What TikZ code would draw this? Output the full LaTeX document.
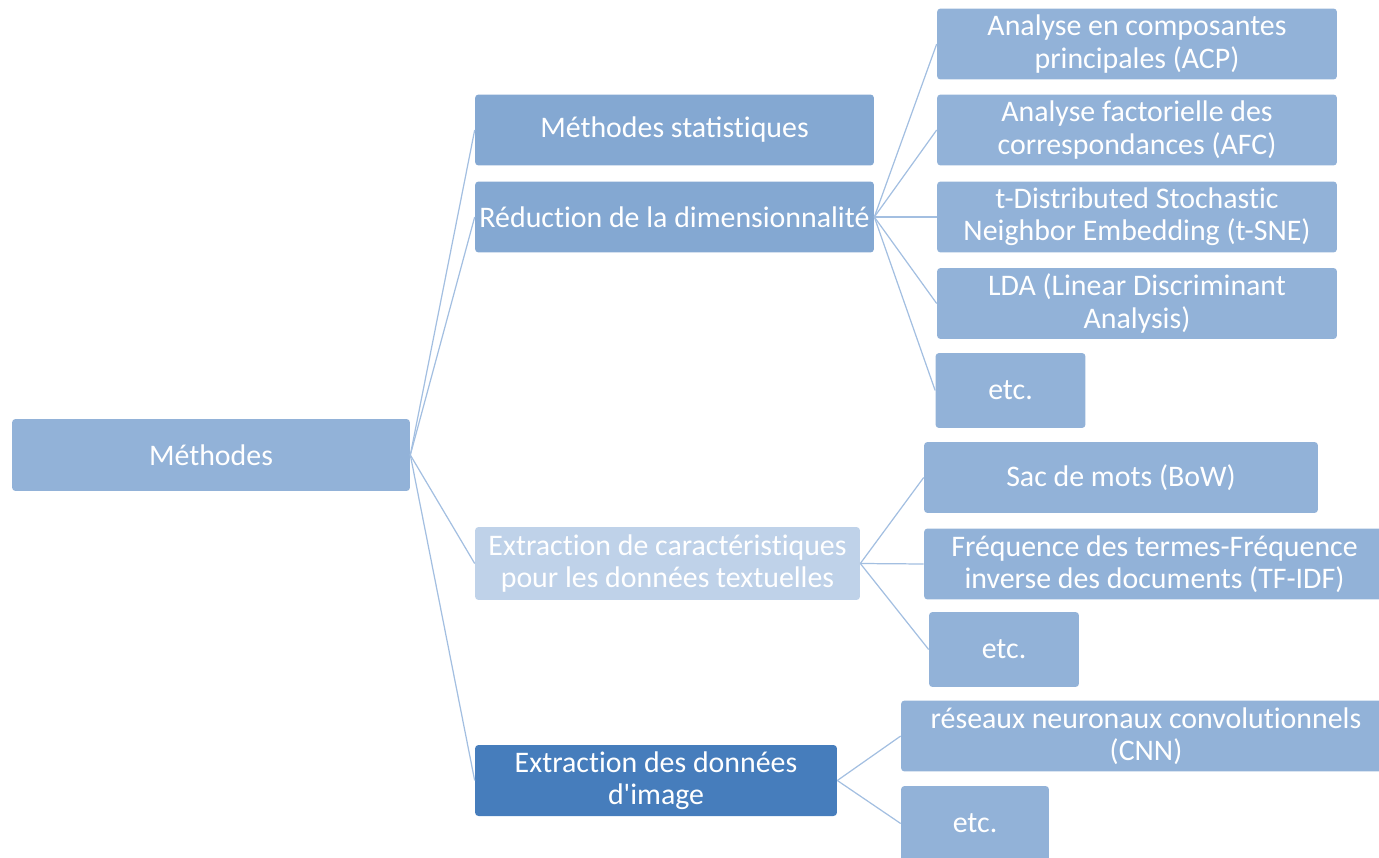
\documentclass[tikz,border=0pt]{standalone}
\usepackage{fontspec}
\setmainfont{Carlito}
\usetikzlibrary{positioning}
\definecolor{leafblue}{HTML}{92B2D8}
\definecolor{midblue}{HTML}{84A8D2}
\definecolor{paleblue}{HTML}{BFD2E9}
\definecolor{deepblue}{HTML}{467DBC}
\definecolor{lineblue}{HTML}{A3BFE1}
% keep t and i apart (no ti ligature)
\newcommand{\tI}{t\kern0pt i}

\begin{document}
\begin{tikzpicture}[x=0.02cm,y=-0.02cm,box/.style={rectangle, rounded corners=2pt, inner sep=0pt, align=center, text=white, font=\fontsize{17}{18.3}\selectfont},leaf/.style={box, fill=leafblue, minimum width=8cm, minimum height=1.42cm},etcbox/.style={box, fill=leafblue, minimum width=3cm, minimum height=1.5cm},mid/.style={box, fill=midblue, minimum width=7.98cm, minimum height=1.42cm},link/.style={draw=lineblue, line width=0.7pt}]
    \useasboundingbox (0,0) rectangle (1379,858);
    \clip (0,0) rectangle (1379,858);
    % root and second level
    \node[box, fill=leafblue, minimum width=7.96cm, minimum height=1.44cm] (methodes) at (211,455) {Méthodes};
    \node[mid] (stat) at (674.5,130) {Méthodes statis\tI ques};
    \node[mid] (reduc) at (674.5,217) {Réduc\tI on de la dimensionnalité};
    \node[box, fill=paleblue, minimum width=7.7cm, minimum height=1.46cm] (texte) at (667.5,563.5) {Extrac\tI on de caractéris\tI ques\\pour les données textuelles};
    \node[box, fill=deepblue, minimum width=7.24cm, minimum height=1.42cm] (image) at (656,780.5) {Extrac\tI on des données\\d\textquotesingle image};
    % dimension reduction leaves
    \node[leaf] (acp) at (1137,44) {Analyse en composantes\\principales (ACP)};
    \node[leaf] (afc) at (1137,130) {Analyse factorielle des\\correspondances (AFC)};
    \node[leaf] (tsne) at (1137,217) {t-Distributed Stochas\tI c\\Neighbor Embedding (t-SNE)};
    \node[leaf] (lda) at (1137,303.5) {LDA (Linear Discriminant\\Analysis)};
    \node[etcbox] (etcreduc) at (1010.5,390.5) {etc.};
    % text leaves
    \node[leaf, minimum width=7.88cm] (bow) at (1121,477.5) {Sac de mots (BoW)};
    \node[leaf, minimum width=9.22cm] (tfidf) at (1154.5,564) {Fréquence des termes-Fréquence\\inverse des documents (TF-IDF)};
    \node[etcbox] (etctexte) at (1004,649.5) {etc.};
    % image leaves
    \node[leaf, minimum width=9.8cm] (cnn) at (1146,736) {réseaux neuronaux convolu\tI onnels\\(CNN)};
    \node[etcbox, minimum width=2.96cm] (etcimage) at (975,823.5) {etc.};
    % links
    \foreach \n in {stat,reduc,texte,image}
        \draw[link] (methodes.east) -- (\n.west);
    \foreach \n in {acp,afc,tsne,lda,etcreduc}
        \draw[link] (reduc.east) -- (\n.west);
    \foreach \n in {bow,tfidf,etctexte}
        \draw[link] (texte.east) -- (\n.west);
    \foreach \n in {cnn,etcimage}
        \draw[link] (image.east) -- (\n.west);
\end{tikzpicture}
\end{document}
